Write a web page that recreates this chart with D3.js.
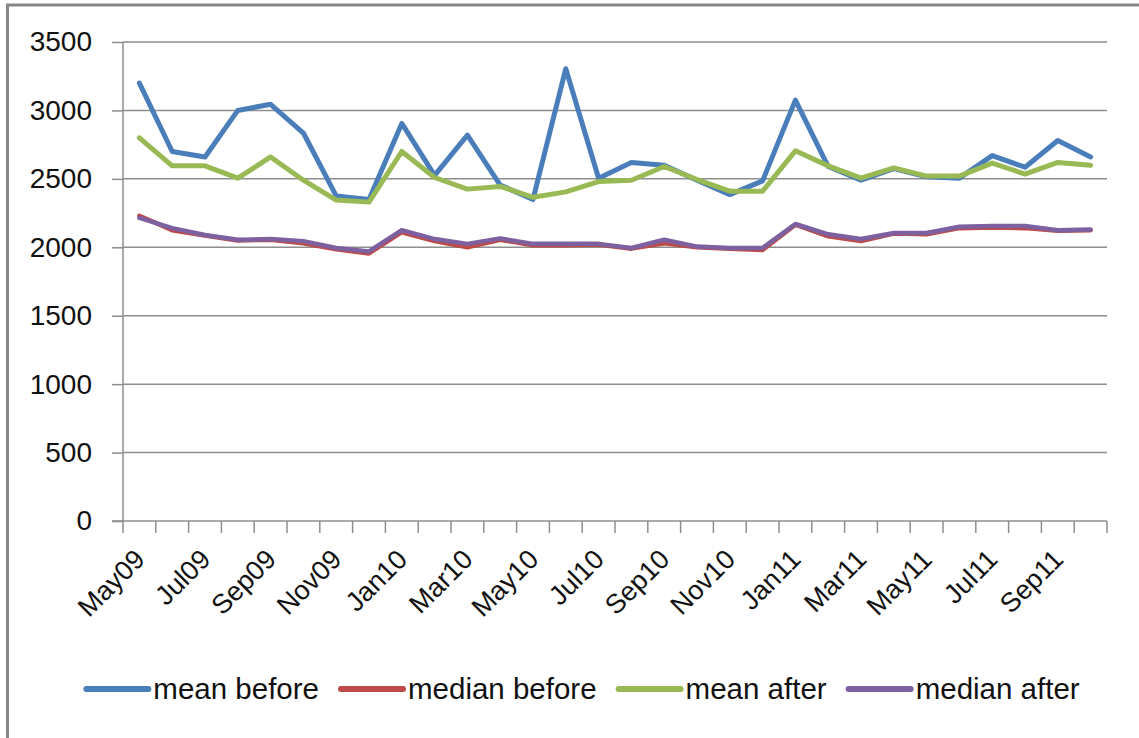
<!DOCTYPE html>
<html>
<head>
<meta charset="utf-8">
<script src="https://cdn.jsdelivr.net/npm/d3@7"></script>
<style>
  body { margin: 0; background: #fff; }
  svg { display: block; font-family: "Liberation Sans", Arial, sans-serif; }
</style>
</head>
<body>
<script>
// months May09 .. Oct11
var months = ["May09","Jun09","Jul09","Aug09","Sep09","Oct09","Nov09","Dec09",
  "Jan10","Feb10","Mar10","Apr10","May10","Jun10","Jul10","Aug10","Sep10","Oct10","Nov10","Dec10",
  "Jan11","Feb11","Mar11","Apr11","May11","Jun11","Jul11","Aug11","Sep11","Oct11"];

var meanBefore = [3200,2700,2660,3000,3045,2835,2375,2350,2905,2525,2820,2455,2350,3305,2505,
  2620,2600,2490,2385,2485,3075,2590,2490,2575,2515,2505,2670,2585,2780,2660];
var medianBefore = [2230,2125,2085,2050,2055,2030,1985,1955,2110,2045,2000,2055,2015,2015,2020,
  1990,2030,2000,1990,1980,2165,2080,2045,2100,2095,2140,2145,2140,2120,2125];
var meanAfter = [2800,2595,2595,2505,2660,2490,2345,2330,2700,2510,2425,2445,2365,2405,2480,
  2490,2590,2495,2410,2410,2705,2595,2505,2580,2520,2520,2615,2535,2620,2600];
var medianAfter = [2215,2140,2090,2055,2060,2045,1995,1970,2125,2060,2025,2065,2025,2025,2025,
  1995,2055,2005,1995,1995,2170,2095,2060,2105,2105,2150,2155,2155,2125,2130];

var yTicks = [0,500,1000,1500,2000,2500,3000,3500];

var seriesNames = ["mean before","median before","mean after","median after"];
var seriesColors = ["#4A7EBB","#BE4B48","#98B954","#7D60A0"];
var seriesData = [meanBefore, medianBefore, meanAfter, medianAfter];

var W = 1139, H = 738;
var svg = d3.select("body").append("svg")
    .attr("width", W)
    .attr("height", H);

// chart border (top and left edges visible)
svg.append("line").attr("x1", 6).attr("x2", W).attr("y1", 5).attr("y2", 5)
    .attr("stroke", "#878787").attr("stroke-width", 3);
svg.append("line").attr("x1", 7.5).attr("x2", 7.5).attr("y1", 4).attr("y2", H)
    .attr("stroke", "#878787").attr("stroke-width", 3);

var x = d3.scaleBand().domain(months).range([123, 1107]);
var y = d3.scaleLinear().domain([0, 3500]).range([521, 42]);

// gridlines
svg.append("g").selectAll("line")
    .data(yTicks.filter(function(d) { return d > 0; }))
    .enter().append("line")
    .attr("x1", 123).attr("x2", 1107)
    .attr("y1", function(d) { return y(d); })
    .attr("y2", function(d) { return y(d); })
    .attr("stroke", "#8e8e8e").attr("stroke-width", 1.5);

// y axis
var yAxis = svg.append("g")
    .attr("transform", "translate(123,0)")
    .call(d3.axisLeft(y).tickValues(yTicks).tickFormat(d3.format("d"))
        .tickSize(11).tickPadding(20));
yAxis.selectAll("line, path").attr("stroke", "#8e8e8e").attr("stroke-width", 1.5);
yAxis.select(".domain").attr("d", "M0," + y(0) + "V" + y(3500));
yAxis.selectAll("text").attr("font-size", 28).attr("fill", "#111")
    .attr("font-family", "Liberation Sans, Arial, sans-serif");

// x axis line and ticks at category boundaries
svg.append("line")
    .attr("x1", 112).attr("x2", 1107).attr("y1", y(0)).attr("y2", y(0))
    .attr("stroke", "#8e8e8e").attr("stroke-width", 1.5);
var bounds = months.map(function(m) { return x(m); }).concat([x.range()[1]]);
svg.append("g").selectAll("line")
    .data(bounds)
    .enter().append("line")
    .attr("x1", function(d) { return d; }).attr("x2", function(d) { return d; })
    .attr("y1", y(0)).attr("y2", y(0) + 12)
    .attr("stroke", "#8e8e8e").attr("stroke-width", 1.5);

// x labels, every other month, rotated
svg.append("g").selectAll("text")
    .data(months.filter(function(d, i) { return i % 2 === 0; }))
    .enter().append("text")
    .attr("transform", function(d) {
        return "translate(" + (x(d) + x.bandwidth() / 2 + 7) + ",561) rotate(-45)";
    })
    .attr("text-anchor", "end")
    .attr("font-size", 27)
    .attr("fill", "#111")
    .text(function(d) { return d; });

// lines
var line = d3.line()
    .x(function(d, i) { return x(months[i]) + x.bandwidth() / 2; })
    .y(function(d) { return y(d); });

svg.append("g").selectAll("path")
    .data(seriesData)
    .enter().append("path")
    .attr("d", function(d) { return line(d); })
    .attr("fill", "none")
    .attr("stroke", function(d, i) { return seriesColors[i]; })
    .attr("stroke-width", function(d, i) { return i % 2 === 1 ? 4.5 : 5; })
    .attr("stroke-linejoin", "round")
    .attr("stroke-linecap", "round");

// legend
var legend = svg.append("g");
var items = legend.selectAll("g")
    .data(seriesNames)
    .enter().append("g");
items.append("line")
    .attr("x1", 0).attr("x2", 62).attr("y1", 0).attr("y2", 0)
    .attr("stroke", function(d, i) { return seriesColors[i]; })
    .attr("stroke-width", 6).attr("stroke-linecap", "round");
items.append("text")
    .attr("x", 67).attr("y", 10)
    .attr("font-size", 29.5)
    .attr("fill", "#111")
    .text(function(d) { return d; });

var pos = 0, offsets = [];
items.each(function() {
    offsets.push(pos);
    pos += 67 + this.querySelector("text").getComputedTextLength() + 22;
});
var total = pos - 22;
var startX = 583 - total / 2;
items.attr("transform", function(d, i) { return "translate(" + (startX + offsets[i]) + ",689)"; });
</script>
</body>
</html>
